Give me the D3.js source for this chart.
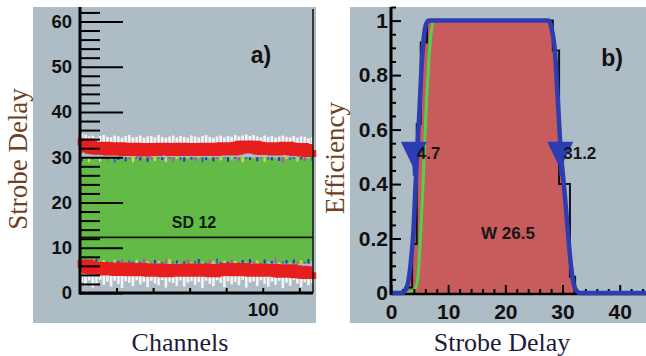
<!DOCTYPE html>
<html>
<head>
<meta charset="utf-8">
<script src="https://cdn.jsdelivr.net/npm/d3@7/dist/d3.min.js"></script>
<style>
  body { margin: 0; background: #fff; }
  svg { display: block; }
</style>
</head>
<body>
<div id="chart"></div>
<script>
// ---- panel a data: one value per pair of channels (channel = 2*i + 1)
const redUpper = [32.6,32.8,32.4,32.1,32.0,31.9,32.1,31.8,31.7,31.9,32.0,31.8,31.6,31.7,31.9,31.8,
  31.6,31.5,31.7,31.8,31.6,31.7,31.9,31.8,31.7,31.6,31.8,31.9,31.7,31.6,31.8,31.7,
  31.6,31.8,31.9,31.7,31.6,31.7,31.9,32.0,31.8,31.7,31.9,32.1,32.3,32.4,32.2,32.3,
  32.1,31.9,31.8,32.0,31.9,31.7,31.8,32.0,32.1,31.9,31.7,31.6,31.8,31.5,31.4,31.6];
const redLower = [5.6,6.0,5.8,5.5,5.4,5.5,5.3,5.2,5.4,5.3,5.1,5.2,5.4,5.2,5.0,5.1,
  5.3,5.2,5.0,4.9,5.1,5.2,5.0,4.8,4.9,5.1,5.0,4.9,5.1,5.2,5.0,4.9,
  5.0,5.2,5.1,4.9,4.8,5.0,5.1,5.2,5.3,5.1,5.0,5.2,5.3,5.1,5.0,4.9,
  5.1,5.2,5.0,4.9,5.1,5.0,4.8,4.7,4.9,5.0,4.8,4.6,4.7,4.5,4.4,4.6];
const whiteUpper = [35.2,35.0,34.6,34.8,34.3,34.7,34.9,34.5,34.4,34.8,34.6,34.3,34.7,34.9,34.4,34.5,
  34.8,34.3,34.6,34.7,34.4,34.9,34.5,34.3,34.6,34.8,34.4,34.7,34.5,34.3,34.8,34.6,
  34.4,34.7,34.9,34.5,34.3,34.6,34.8,34.4,34.7,34.5,34.9,34.6,34.8,35.0,34.7,34.9,
  34.6,34.4,34.8,34.5,34.7,34.3,34.6,34.8,34.5,34.4,34.7,34.3,34.6,34.5,34.2,34.4];
const whiteLower = [2.4,1.6,2.8,1.2,2.2,2.9,1.8,2.5,1.4,2.7,2.0,1.1,2.6,2.3,1.5,2.8,
  1.9,2.4,1.3,2.7,2.1,1.7,2.9,1.2,2.5,2.2,1.6,2.8,1.4,2.3,2.6,1.8,
  2.4,1.1,2.7,2.0,1.5,2.8,2.2,1.3,2.6,1.9,2.4,1.7,2.9,1.2,2.3,2.6,
  1.5,2.8,2.0,1.4,2.5,1.8,2.7,1.1,2.3,1.6,2.9,2.1,1.3,2.4,1.7,2.2];
const speckUpper = [0.9,0.3,1.1,0.5,0.2,1.0,0.4,0.8,0.3,1.2,0.6,0.2,0.9,0.4,1.1,0.3,
  0.7,0.2,1.0,0.5,0.8,0.3,0.6,1.1,0.2,0.9,0.4,0.7,1.0,0.3,0.5,0.8,
  0.2,1.1,0.6,0.3,0.9,0.4,0.7,0.2,1.0,0.5,0.3,0.8,1.1,0.4,0.6,0.2,
  0.9,0.3,1.0,0.5,0.7,0.2,0.8,1.2,0.4,0.6,0.3,1.0,0.5,0.8,0.2,0.9];
const speckLower = [0.4,1.0,0.3,0.7,1.1,0.2,0.8,0.5,0.3,0.9,0.6,1.0,0.2,0.7,0.4,0.9,
  0.3,1.1,0.5,0.2,0.8,0.6,0.3,0.9,1.0,0.4,0.7,0.2,0.5,0.9,0.3,0.6,
  1.0,0.4,0.2,0.8,0.5,1.1,0.3,0.7,0.4,0.9,0.6,0.2,0.8,0.3,1.0,0.5,
  0.7,0.2,0.9,0.4,0.6,1.1,0.3,0.5,0.8,0.2,0.9,0.4,0.7,0.3,1.0,0.5];
const greenBand = [6.5, 30.0];
const sdLevel = 12.3;
const sdText = 'SD 12';
const channelTicks = [20, 40, 60, 80, 100, 120];
const channelLabels = [100];

// ---- panel b data
const fitCurve = [[0,0],[2,0],[2.5,0.01],[3,0.04],[3.5,0.12],[3.9,0.22],[4.3,0.4],[4.6,0.52],
  [5.0,0.68],[5.4,0.85],[5.8,0.95],[6.2,0.99],[6.7,1],[27.5,1],[28.1,0.97],[28.7,0.88],
  [29.2,0.7],[29.6,0.55],[30.0,0.45],[30.4,0.36],[30.8,0.26],[31.2,0.16],[31.6,0.08],
  [32.0,0.03],[32.6,0.005],[33.2,0],[44.6,0]];
const greenCurve = [[2.2,0],[3,0.002],[4,0.01],[4.5,0.03],[4.8,0.08],[5.0,0.15],[5.2,0.22],
  [5.5,0.35],[5.8,0.5],[6.2,0.7],[6.6,0.85],[7.0,0.95],[7.5,1.0],[9,1.0]];
const histEdges = [0, 2.5, 3.7, 4.5, 5.2, 6.3, 28.3, 29.4, 31.3, 32.2, 44.6];
const histValues = [0, 0.02, 0.18, 0.62, 0.92, 1.0, 0.89, 0.40, 0.06, 0];
const markerX = [4.0, 29.6];
const markerText = ['4.7', '31.2'];
const widthText = 'W 26.5';

const W = 646, H = 356;
const gray = '#aebcc6';
const labelFont = 'Liberation Sans, Arial, sans-serif';
const serif = 'Liberation Serif, Times New Roman, serif';
const blue = '#2c3cb2';

const svg = d3.select('#chart').append('svg')
  .attr('width', W).attr('height', H);

// ================= panel a =================
const xA = d3.scaleLinear().domain([0, 127.5]).range([80, 313]);
const yA = d3.scaleLinear().domain([0, 63.2]).range([293, 7]);
const gA = svg.append('g');

gA.append('rect').attr('x', 33).attr('y', 7).attr('width', 283).attr('height', 316).attr('fill', gray);

gA.append('rect')
  .attr('x', xA(0)).attr('width', xA(127.5) - xA(0))
  .attr('y', yA(greenBand[1])).attr('height', yA(greenBand[0]) - yA(greenBand[1]))
  .attr('fill', '#64ba46');

const chan = (d, i) => xA(2 * i + 1);

// white noise outside the red bands
gA.selectAll('.wu').data(whiteUpper).join('line')
  .attr('x1', chan).attr('x2', chan)
  .attr('y1', (d, i) => yA(redUpper[i] + 1)).attr('y2', d => yA(d))
  .attr('stroke', '#f4f4f4').attr('stroke-width', 2.6);
gA.selectAll('.wl').data(whiteLower).join('line')
  .attr('x1', chan).attr('x2', chan)
  .attr('y1', (d, i) => yA(redLower[i] - 1)).attr('y2', d => yA(d))
  .attr('stroke', '#f4f4f4').attr('stroke-width', 2.6);

// coloured specks along the green edges
const speckColors = ['#2a35c8', '#d23cd2', '#e8e030', '#3060e0', '#2a35c8', '#c8c8c8'];
gA.selectAll('.su').data(speckUpper).join('rect')
  .attr('x', (d, i) => chan(d, i) - 1).attr('width', 2)
  .attr('y', yA(greenBand[1])).attr('height', d => yA(greenBand[1] - d) - yA(greenBand[1]))
  .attr('fill', (d, i) => speckColors[i % speckColors.length]);
gA.selectAll('.sl').data(speckLower).join('rect')
  .attr('x', (d, i) => chan(d, i) - 1).attr('width', 2)
  .attr('y', d => yA(greenBand[0] + d)).attr('height', d => yA(greenBand[0]) - yA(greenBand[0] + d))
  .attr('fill', (d, i) => speckColors[(i + 2) % speckColors.length]);

// red bands
const bandLine = d3.line().x(chan).y(d => yA(d)).curve(d3.curveStep);
[redUpper, redLower].forEach(arr => {
  gA.append('path').attr('d', bandLine(arr))
    .attr('fill', 'none').attr('stroke', '#e61e1e').attr('stroke-width', 12);
});

// SD line
gA.append('line').attr('x1', xA(0)).attr('x2', xA(127.5))
  .attr('y1', yA(sdLevel)).attr('y2', yA(sdLevel))
  .attr('stroke', '#0c140a').attr('stroke-width', 1.6);
gA.append('text').attr('x', 194).attr('y', yA(sdLevel) - 15)
  .attr('text-anchor', 'middle').attr('dominant-baseline', 'central')
  .attr('font-family', labelFont).attr('font-weight', 'bold').attr('font-size', 16)
  .attr('fill', '#0c1a0c').text(sdText);

// axes panel a
const yAMajor = d3.range(0, 61, 10);
const yAMinor = d3.range(0, 64, 2).filter(v => v % 10 !== 0);
gA.append('g').attr('transform', `translate(${xA(0)},0)`)
  .call(d3.axisLeft(yA).tickValues(yAMinor).tickSize(-20).tickFormat(''))
  .call(g => g.select('.domain').remove());
gA.append('g').attr('transform', `translate(${xA(0)},0)`)
  .call(d3.axisLeft(yA).tickValues(yAMajor).tickSize(-43).tickPadding(8))
  .call(g => g.select('.domain').remove());
gA.append('g').attr('transform', `translate(0,${yA(0)})`)
  .call(d3.axisBottom(xA).tickValues(channelTicks).tickSize(-5).tickPadding(10)
    .tickFormat(d => channelLabels.includes(d) ? d : ''))
  .call(g => g.select('.domain').remove());
gA.selectAll('.tick line').attr('stroke', '#000').attr('stroke-width', 2);
gA.selectAll('.tick text').attr('font-family', labelFont).attr('font-weight', 'bold')
  .attr('font-size', 18.5).attr('fill', '#111');

gA.append('line').attr('x1', xA(0)).attr('x2', xA(0)).attr('y1', 7).attr('y2', yA(0) + 1.5)
  .attr('stroke', '#000').attr('stroke-width', 3);
gA.append('line').attr('x1', xA(0)).attr('x2', xA(127.5)).attr('y1', yA(0)).attr('y2', yA(0))
  .attr('stroke', '#000').attr('stroke-width', 3);
gA.append('line').attr('x1', xA(127.5)).attr('x2', xA(127.5)).attr('y1', 9).attr('y2', yA(0))
  .attr('stroke', '#111').attr('stroke-width', 1.5);

gA.append('text').attr('x', 261).attr('y', 55).attr('text-anchor', 'middle')
  .attr('dominant-baseline', 'central').attr('font-family', labelFont)
  .attr('font-weight', 'bold').attr('font-size', 23).attr('fill', '#111').text('a)');

svg.append('text').attr('transform', 'translate(18,159) rotate(-90)')
  .attr('text-anchor', 'middle').attr('dominant-baseline', 'central')
  .attr('font-family', serif).attr('font-size', 27).attr('fill', '#6e3f22').text('Strobe Delay');
svg.append('text').attr('x', 180).attr('y', 342)
  .attr('text-anchor', 'middle').attr('dominant-baseline', 'central')
  .attr('font-family', serif).attr('font-size', 26).attr('fill', '#1c1c3a').text('Channels');

// ================= panel b =================
const xB = d3.scaleLinear().domain([0, 44.6]).range([391, 646]);
const yB = d3.scaleLinear().domain([0, 1.05]).range([293, 7]);
const gB = svg.append('g');

gB.append('rect').attr('x', 350).attr('y', 7).attr('width', 296).attr('height', 316).attr('fill', gray);

gB.append('path')
  .attr('d', d3.area().x(d => xB(d[0])).y0(yB(0)).y1(d => yB(d[1])).curve(d3.curveMonotoneX)(fitCurve))
  .attr('fill', '#c85b5b');

// histogram steps
const histPts = [];
histValues.forEach((v, i) => { histPts.push([histEdges[i], v]); histPts.push([histEdges[i + 1], v]); });
gB.append('path')
  .attr('d', d3.line().x(d => xB(d[0])).y(d => yB(d[1]))(histPts))
  .attr('fill', 'none').attr('stroke', '#111').attr('stroke-width', 2);

gB.append('path')
  .attr('d', d3.line().x(d => xB(d[0])).y(d => yB(d[1])).curve(d3.curveMonotoneX)(greenCurve))
  .attr('fill', 'none').attr('stroke', '#52d24a').attr('stroke-width', 3);

// axes panel b
const yBMajor = d3.range(0, 1.01, 0.2).map(v => +v.toFixed(2));
const yBMinor = d3.range(0, 1.051, 0.05).map(v => +v.toFixed(2)).filter(v => Math.round(v * 100) % 20 !== 0);
const xBMajor = [0, 10, 20, 30, 40];
const xBMinor = d3.range(2, 45, 2).filter(v => v % 10 !== 0);
gB.append('g').attr('transform', `translate(${xB(0)},0)`)
  .call(d3.axisLeft(yB).tickValues(yBMinor).tickSize(-5).tickFormat(''))
  .call(g => g.select('.domain').remove());
gB.append('g').attr('transform', `translate(${xB(0)},0)`)
  .call(d3.axisLeft(yB).tickValues(yBMajor).tickSize(-10).tickPadding(3).tickFormat(d3.format('~g')))
  .call(g => g.select('.domain').remove());
gB.append('g').attr('transform', `translate(0,${yB(0)})`)
  .call(d3.axisBottom(xB).tickValues(xBMinor).tickSize(-4).tickFormat(''))
  .call(g => g.select('.domain').remove());
gB.append('g').attr('transform', `translate(0,${yB(0)})`)
  .call(d3.axisBottom(xB).tickValues(xBMajor).tickSize(-8).tickPadding(11))
  .call(g => g.select('.domain').remove());
gB.selectAll('.tick line').attr('stroke', '#000').attr('stroke-width', 2);
gB.selectAll('.tick text').attr('font-family', labelFont).attr('font-weight', 'bold')
  .attr('font-size', 21).attr('fill', '#111');

gB.append('line').attr('x1', xB(0)).attr('x2', 646).attr('y1', yB(0) + 1).attr('y2', yB(0) + 1)
  .attr('stroke', '#000').attr('stroke-width', 2.5);

// fit curve on top
gB.append('path')
  .attr('d', d3.line().x(d => xB(d[0])).y(d => yB(d[1])).curve(d3.curveMonotoneX)(fitCurve))
  .attr('fill', 'none').attr('stroke', blue).attr('stroke-width', 4.5).attr('stroke-linejoin', 'round');

gB.append('line').attr('x1', xB(0)).attr('x2', xB(0)).attr('y1', 7).attr('y2', yB(0) + 2)
  .attr('stroke', '#000').attr('stroke-width', 3);

// edge markers
const triTop = yB(0.555);
gB.selectAll('.mk').data(markerX).join('path')
  .attr('d', d => {
    const x = xB(d);
    return `M${x - 13},${triTop} L${x + 13},${triTop} L${x + 1.5},${triTop + 24} L${x + 1},${triTop + 34} L${x - 1},${triTop + 34} L${x - 1.5},${triTop + 24} Z`;
  })
  .attr('fill', blue);
gB.selectAll('.mt').data(markerX).join('text')
  .attr('x', d => xB(d) + 3).attr('y', triTop + 12)
  .attr('dominant-baseline', 'central').attr('font-family', labelFont)
  .attr('font-weight', 'bold').attr('font-size', 17).attr('fill', '#161616')
  .text((d, i) => markerText[i]);

gB.append('text').attr('x', 508).attr('y', 233).attr('text-anchor', 'middle')
  .attr('dominant-baseline', 'central').attr('font-family', labelFont)
  .attr('font-weight', 'bold').attr('font-size', 17).attr('fill', '#161616').text(widthText);

gB.append('text').attr('x', 612).attr('y', 58).attr('text-anchor', 'middle')
  .attr('dominant-baseline', 'central').attr('font-family', labelFont)
  .attr('font-weight', 'bold').attr('font-size', 23).attr('fill', '#111').text('b)');

svg.append('text').attr('transform', 'translate(335,158) rotate(-90)')
  .attr('text-anchor', 'middle').attr('dominant-baseline', 'central')
  .attr('font-family', serif).attr('font-size', 27).attr('fill', '#6e3f22').text('Efficiency');
svg.append('text').attr('x', 502).attr('y', 342)
  .attr('text-anchor', 'middle').attr('dominant-baseline', 'central')
  .attr('font-family', serif).attr('font-size', 26).attr('fill', '#1c1c3a').text('Strobe Delay');
</script>
</body>
</html>
